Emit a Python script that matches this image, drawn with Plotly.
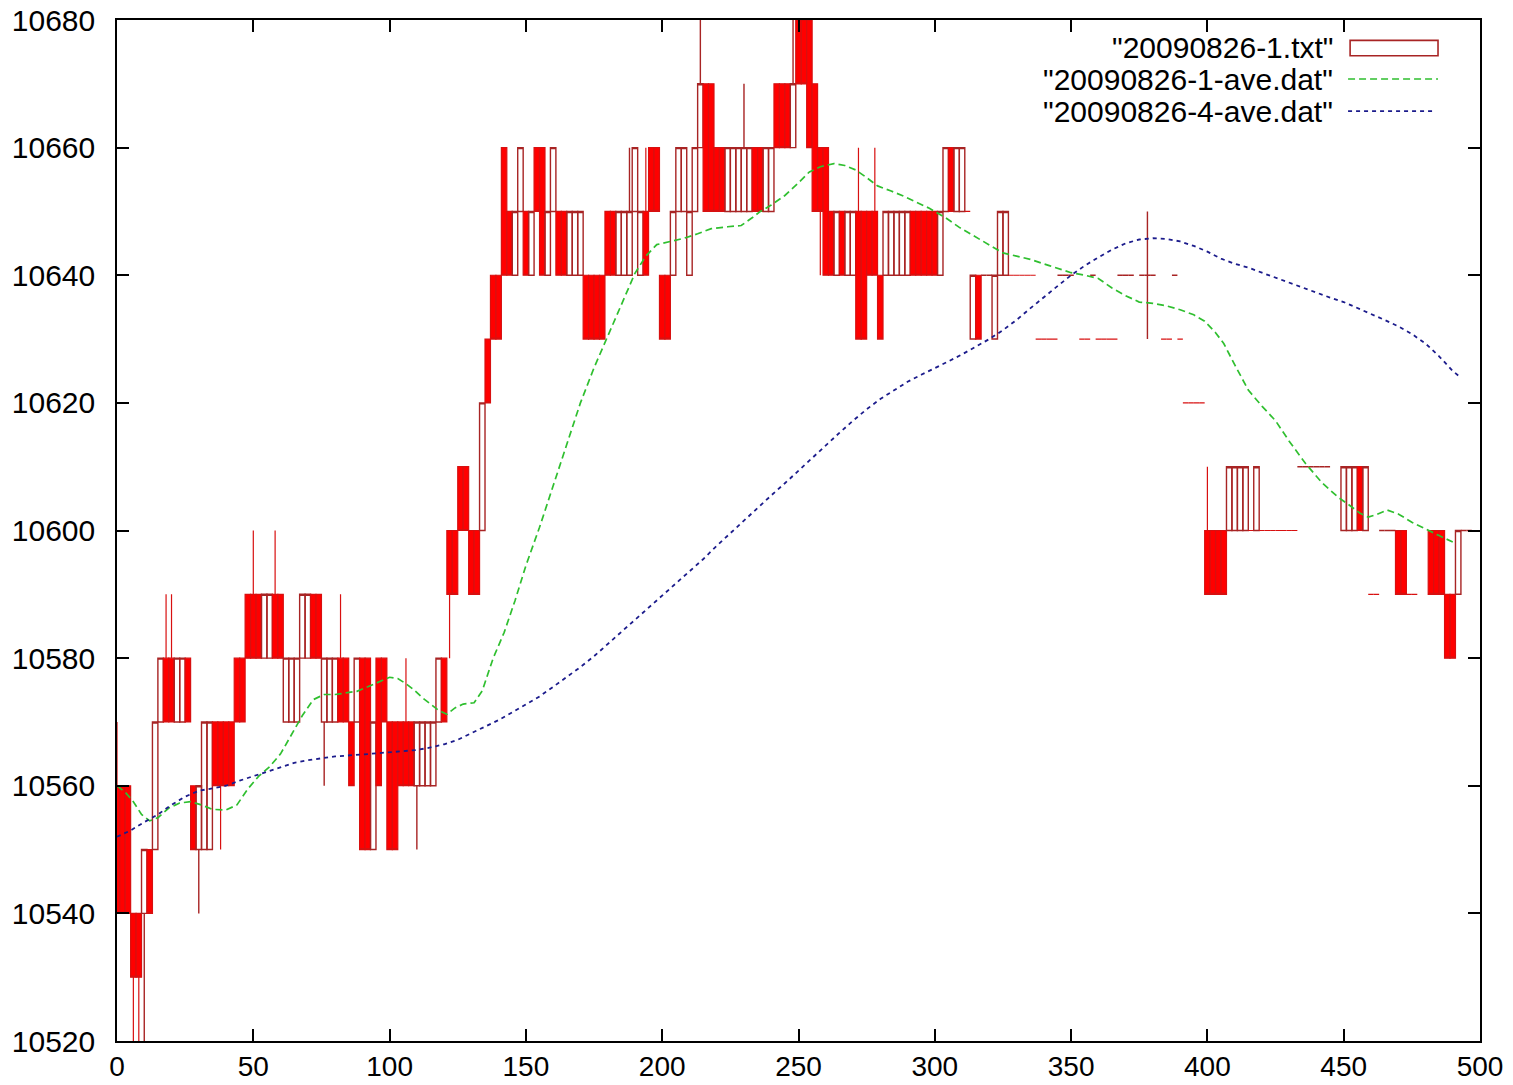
import plotly.graph_objects as go

# ---------------- data ----------------
candle_x = list(range(0, 497, 2))

price_open = [
    10560, 10560, 10560, 10540, 10540, 10540, 10550, 10550, 10570, 10580,
    10580, 10570, 10570, 10580, 10560, 10550, 10550, 10550, 10570, 10570,
    10570, 10570, 10580, 10580, 10590, 10590, 10590, 10580, 10580, 10590,
    10590, 10570, 10570, 10570, 10580, 10580, 10590, 10590, 10570, 10570,
    10570, 10580, 10580, 10570, 10570, 10580, 10580, 10550, 10580, 10580,
    10570, 10570, 10570, 10570, 10570, 10560, 10560, 10560, 10560, 10570,
    10580, 10600, 10600, 10610, 10610, 10600, 10600, 10600, 10630, 10640,
    10640, 10660, 10650, 10640, 10650, 10650, 10640, 10660, 10660, 10640,
    10650, 10650, 10650, 10640, 10640, 10640, 10640, 10640, 10640, 10640,
    10650, 10650, 10640, 10640, 10640, 10650, 10640, 10650, 10660, 10660,
    10640, 10640, 10640, 10650, 10650, 10640, 10650, 10660, 10670, 10670,
    10660, 10660, 10650, 10650, 10650, 10650, 10650, 10660, 10660, 10650,
    10650, 10670, 10670, 10670, 10660, 10680, 10680, 10680, 10670, 10660,
    10660, 10650, 10640, 10650, 10640, 10640, 10650, 10650, 10650, 10650,
    10640, 10640, 10640, 10640, 10640, 10640, 10650, 10650, 10650, 10650,
    10650, 10640, 10650, 10660, 10650, 10650, 10650, 10630, 10640, 10640,
    10640, 10630, 10640, 10640, 10640, 10640, 10640, 10640, 10640, 10630,
    10630, 10630, 10630, 10640, 10640, 10640, None, 10630, 10630, 10640,
    10630, 10630, 10630, 10630, 10640, 10640, 10640, None, 10640, 10640,
    10640, None, 10630, 10630, 10640, 10630, 10620, 10620, 10620, 10620,
    10600, 10600, 10600, 10600, 10600, 10600, 10600, 10600, 10600, 10600,
    10600, 10600, 10600, 10600, 10600, 10600, 10600, 10610, 10610, 10610,
    10610, 10610, 10610, None, None, 10600, 10600, 10600, 10610, 10600,
    10590, 10590, 10600, 10600, 10600, 10600, 10600, 10590, 10590, None,
    None, 10600, 10600, 10600, 10590, 10590, 10590, 10600, 10600,
]

price_high = [
    10570, 10560, 10560, 10540, 10540, 10550, 10550, 10570, 10580, 10590,
    10590, 10580, 10580, 10580, 10560, 10560, 10570, 10570, 10570, 10570,
    10570, 10570, 10580, 10580, 10590, 10600, 10590, 10590, 10590, 10600,
    10590, 10580, 10580, 10580, 10590, 10590, 10590, 10590, 10580, 10580,
    10580, 10590, 10580, 10570, 10580, 10580, 10580, 10570, 10580, 10580,
    10570, 10570, 10570, 10580, 10570, 10570, 10570, 10570, 10570, 10580,
    10580, 10600, 10600, 10610, 10610, 10600, 10600, 10620, 10630, 10640,
    10640, 10660, 10650, 10650, 10660, 10650, 10650, 10660, 10660, 10650,
    10660, 10650, 10650, 10650, 10650, 10650, 10640, 10640, 10640, 10640,
    10650, 10650, 10650, 10650, 10660, 10660, 10650, 10660, 10660, 10660,
    10640, 10640, 10650, 10660, 10660, 10650, 10660, 10690, 10670, 10670,
    10660, 10660, 10660, 10660, 10660, 10670, 10660, 10660, 10660, 10660,
    10660, 10670, 10670, 10670, 10690, 10690, 10690, 10690, 10670, 10660,
    10660, 10650, 10650, 10650, 10650, 10650, 10660, 10650, 10650, 10660,
    10640, 10650, 10650, 10650, 10650, 10650, 10650, 10650, 10650, 10650,
    10650, 10650, 10660, 10660, 10660, 10660, 10650, 10640, 10640, 10640,
    10640, 10640, 10650, 10650, 10640, 10640, 10640, 10640, 10640, 10630,
    10630, 10630, 10630, 10640, 10640, 10640, None, 10630, 10630, 10640,
    10630, 10630, 10630, 10630, 10640, 10640, 10640, None, 10640, 10650,
    10640, None, 10630, 10630, 10640, 10630, 10620, 10620, 10620, 10620,
    10610, 10600, 10600, 10600, 10610, 10610, 10610, 10610, 10600, 10610,
    10600, 10600, 10600, 10600, 10600, 10600, 10600, 10610, 10610, 10610,
    10610, 10610, 10610, None, None, 10610, 10610, 10610, 10610, 10610,
    10590, 10590, 10600, 10600, 10600, 10600, 10600, 10590, 10590, None,
    None, 10600, 10600, 10600, 10590, 10590, 10600, 10600, 10600,
]

price_low = [
    10540, 10540, 10540, 10520, 10520, 10520, 10540, 10550, 10570, 10570,
    10570, 10570, 10570, 10570, 10550, 10540, 10550, 10550, 10560, 10550,
    10560, 10560, 10570, 10570, 10580, 10580, 10580, 10580, 10580, 10580,
    10580, 10570, 10570, 10570, 10580, 10580, 10580, 10580, 10560, 10570,
    10570, 10570, 10570, 10560, 10570, 10550, 10550, 10550, 10560, 10570,
    10550, 10550, 10560, 10560, 10560, 10550, 10560, 10560, 10560, 10570,
    10570, 10580, 10590, 10600, 10600, 10590, 10590, 10600, 10620, 10630,
    10630, 10640, 10640, 10640, 10650, 10640, 10640, 10650, 10640, 10640,
    10650, 10640, 10640, 10640, 10640, 10640, 10630, 10630, 10630, 10630,
    10640, 10640, 10640, 10640, 10640, 10650, 10640, 10640, 10650, 10650,
    10630, 10630, 10640, 10650, 10650, 10640, 10650, 10660, 10650, 10650,
    10650, 10650, 10650, 10650, 10650, 10650, 10650, 10650, 10650, 10650,
    10650, 10660, 10660, 10660, 10660, 10670, 10670, 10660, 10650, 10640,
    10640, 10640, 10640, 10640, 10640, 10640, 10630, 10630, 10640, 10640,
    10630, 10640, 10640, 10640, 10640, 10640, 10640, 10640, 10640, 10640,
    10640, 10640, 10650, 10650, 10650, 10650, 10650, 10630, 10630, 10640,
    10640, 10630, 10640, 10640, 10640, 10640, 10640, 10640, 10640, 10630,
    10630, 10630, 10630, 10640, 10640, 10640, None, 10630, 10630, 10640,
    10630, 10630, 10630, 10630, 10640, 10640, 10640, None, 10640, 10630,
    10640, None, 10630, 10630, 10640, 10630, 10620, 10620, 10620, 10620,
    10590, 10590, 10590, 10590, 10600, 10600, 10600, 10600, 10600, 10600,
    10600, 10600, 10600, 10600, 10600, 10600, 10600, 10610, 10610, 10610,
    10610, 10610, 10610, None, None, 10600, 10600, 10600, 10600, 10600,
    10590, 10590, 10600, 10600, 10600, 10590, 10590, 10590, 10590, None,
    None, 10590, 10590, 10590, 10580, 10580, 10590, 10600, 10600,
]

price_close = [
    10540, 10540, 10540, 10530, 10530, 10550, 10540, 10570, 10580, 10570,
    10570, 10580, 10580, 10570, 10550, 10560, 10570, 10570, 10560, 10560,
    10560, 10560, 10570, 10570, 10580, 10580, 10580, 10590, 10590, 10580,
    10580, 10580, 10580, 10580, 10590, 10590, 10580, 10580, 10580, 10580,
    10580, 10570, 10570, 10560, 10580, 10550, 10550, 10570, 10560, 10570,
    10550, 10550, 10560, 10560, 10560, 10570, 10570, 10570, 10570, 10580,
    10570, 10590, 10590, 10600, 10600, 10590, 10590, 10620, 10620, 10630,
    10630, 10640, 10640, 10650, 10660, 10640, 10650, 10650, 10640, 10650,
    10660, 10640, 10640, 10650, 10650, 10650, 10630, 10630, 10630, 10630,
    10640, 10640, 10650, 10650, 10650, 10660, 10650, 10640, 10650, 10650,
    10630, 10630, 10650, 10660, 10660, 10650, 10660, 10670, 10650, 10650,
    10650, 10650, 10660, 10660, 10660, 10660, 10660, 10650, 10650, 10660,
    10660, 10660, 10660, 10660, 10670, 10670, 10670, 10660, 10650, 10650,
    10640, 10640, 10650, 10640, 10650, 10650, 10630, 10630, 10640, 10640,
    10630, 10650, 10650, 10650, 10650, 10650, 10640, 10640, 10640, 10640,
    10640, 10650, 10660, 10650, 10660, 10660, 10650, 10640, 10630, 10640,
    10640, 10640, 10650, 10650, 10640, 10640, 10640, 10640, 10640, 10630,
    10630, 10630, 10630, 10640, 10640, 10640, None, 10630, 10630, 10640,
    10630, 10630, 10630, 10630, 10640, 10640, 10640, None, 10640, 10640,
    10640, None, 10630, 10630, 10640, 10630, 10620, 10620, 10620, 10620,
    10590, 10590, 10590, 10590, 10610, 10610, 10610, 10610, 10600, 10610,
    10600, 10600, 10600, 10600, 10600, 10600, 10600, 10610, 10610, 10610,
    10610, 10610, 10610, None, None, 10610, 10610, 10610, 10600, 10610,
    10590, 10590, 10600, 10600, 10600, 10590, 10590, 10590, 10590, None,
    None, 10590, 10590, 10590, 10580, 10580, 10600, 10600, 10600,
]

ave1_x = [0, 3, 6, 9, 12, 15, 19, 23, 27, 31, 35, 40, 44, 48, 52, 56, 60, 64, 68, 72,
          76, 80, 84, 88, 92, 96, 100, 103, 106, 109, 112, 115, 118, 121, 124, 127, 131,
          134, 138, 142, 146, 150, 155, 160, 165, 170, 175, 180, 185, 190, 194, 198, 203,
          208, 213, 218, 224, 229, 233, 236, 240, 245, 250, 254, 258, 263, 267, 271, 275,
          279, 284, 288, 293, 298, 304, 309, 313, 319, 325, 330, 335, 342, 350, 355, 360,
          365, 370, 375, 380, 385, 390, 395, 399, 403, 406, 410, 415, 420, 425, 430, 436,
          442, 448, 452, 456, 459, 462, 466, 470, 475, 480, 485, 490]
ave1_y = [10560, 10559, 10557.5, 10555.5, 10554.5, 10555, 10556.5, 10557.3, 10557.5, 10557,
          10556.3, 10556.2, 10557, 10559.5, 10561.5, 10563, 10565, 10568, 10571, 10573.5,
          10574.3, 10574.3, 10574.5, 10574.8, 10575.5, 10576.3, 10577, 10576.8, 10576, 10575,
          10573.8, 10572.8, 10571.8, 10571.2, 10572.2, 10572.8, 10573, 10574.9, 10580, 10584,
          10589, 10594.5, 10600.5, 10607, 10613.5, 10620, 10625.5, 10630.5, 10635.5, 10640.3,
          10643, 10644.8, 10645.3, 10645.8, 10646.5, 10647.3, 10647.6, 10647.8, 10649, 10650,
          10651, 10652.5, 10654.5, 10656.2, 10657, 10657.5, 10657.2, 10656.5, 10655.3, 10654,
          10653.2, 10652.5, 10651.5, 10650.5, 10649, 10647.5, 10646.5, 10645, 10643.5, 10643,
          10642.5, 10641.5, 10640.4, 10640, 10639.5, 10638, 10636.8, 10635.8, 10635.6, 10635.2,
          10634.6, 10633.8, 10632.8, 10631, 10629.3, 10626, 10622, 10619.5, 10617.2, 10614,
          10610.5, 10607.5, 10605.2, 10604, 10602.7, 10602.1, 10602.5, 10603.2, 10602.6, 10601.3,
          10600.2, 10599.2, 10598.2]

ave4_x = [0, 5, 10, 15, 20, 25, 30, 35, 40, 45, 50, 55, 60, 65, 70, 75, 80, 90, 100, 110,
          115, 120, 125, 130, 135, 140, 145, 150, 155, 160, 165, 170, 175, 180, 185, 190,
          195, 200, 205, 210, 215, 220, 225, 230, 235, 240, 245, 250, 255, 260, 265, 270,
          275, 280, 285, 290, 295, 300, 305, 310, 315, 320, 325, 330, 335, 340, 345, 350,
          355, 360, 365, 370, 375, 380, 385, 390, 395, 400, 405, 410, 415, 420, 425, 430,
          435, 440, 445, 450, 455, 460, 465, 470, 475, 480, 485, 490, 492]
ave4_y = [10552, 10553, 10554.3, 10555.5, 10557, 10558.3, 10559.2, 10559.6, 10560, 10560.8,
          10561.5, 10562.3, 10563, 10563.6, 10564, 10564.3, 10564.6, 10564.9, 10565.2, 10565.6,
          10566, 10566.5, 10567.2, 10568.2, 10569.3, 10570.3, 10571.5, 10572.8, 10574, 10575.5,
          10577, 10578.6, 10580.3, 10582.2, 10584, 10586, 10587.8, 10589.7, 10591.6, 10593.5,
          10595.5, 10597.6, 10599.6, 10601.6, 10603.6, 10605.5, 10607.4, 10609.4, 10611.4, 10613.4,
          10615.3, 10617.2, 10619, 10620.6, 10622, 10623.3, 10624.4, 10625.4, 10626.5, 10627.6,
          10628.8, 10630, 10631.4, 10633, 10634.8, 10636.6, 10638.3, 10640, 10641.5, 10642.8,
          10644, 10645, 10645.6, 10645.8, 10645.7, 10645.3, 10644.6, 10643.7, 10642.6, 10641.8,
          10641.2, 10640.4, 10639.6, 10638.8, 10638, 10637.2, 10636.5, 10635.8, 10634.9, 10634,
          10633, 10632, 10630.8, 10629.3, 10627.3, 10625, 10624.3]

x_ticks = [0, 50, 100, 150, 200, 250, 300, 350, 400, 450, 500]
y_ticks = [10520, 10540, 10560, 10580, 10600, 10620, 10640, 10660, 10680]
legend_labels = ['"20090826-1.txt"', '"20090826-1-ave.dat"', '"20090826-4-ave.dat"']

# ---------------- styles ----------------
OUTLINE = "#a82424"
FILLED = "#ff0000"
FILL_EDGE = "#d81010"
GREEN = "#2fbf2f"
BLUE = "#1c1c8c"
FONT = "Liberation Sans, Arial, Helvetica, sans-serif"
Y_TICK_SIZE = 30
X_TICK_SIZE = 28
KEY_SIZE = 30

fig = go.Figure()

fig.add_trace(go.Candlestick(
    x=candle_x, open=price_open, high=price_high, low=price_low, close=price_close,
    increasing=dict(line=dict(color=OUTLINE, width=1.4), fillcolor="rgba(0,0,0,0)"),
    decreasing=dict(line=dict(color=FILL_EDGE, width=1.2), fillcolor=FILLED),
    whiskerwidth=0, showlegend=False, hoverinfo="skip",
))

fig.add_trace(go.Scatter(
    x=ave1_x, y=ave1_y, mode="lines",
    line=dict(color=GREEN, width=1.7, dash="7px,4px"),
    showlegend=False, hoverinfo="skip",
))

fig.add_trace(go.Scatter(
    x=ave4_x, y=ave4_y, mode="lines",
    line=dict(color=BLUE, width=1.8, dash="4px,4px"),
    showlegend=False, hoverinfo="skip",
))

# ---------------- gnuplot-style key (text left, sample right) ----------------
row_y = [0.9735, 0.9422, 0.9108]
text_x = 0.8937
for lbl, yy in zip(legend_labels, row_y):
    fig.add_annotation(
        x=text_x, y=yy, xref="paper", yref="paper", text=lbl, showarrow=False,
        xanchor="right", yanchor="middle", font=dict(family=FONT, size=KEY_SIZE, color="black"),
    )

fig.add_shape(type="rect", xref="paper", yref="paper",
              x0=0.9047, x1=0.9692, y0=0.9650, y1=0.9800,
              line=dict(color=OUTLINE, width=1.6), fillcolor="rgba(0,0,0,0)")
fig.add_shape(type="line", xref="paper", yref="paper",
              x0=0.9032, x1=0.9692, y0=row_y[1], y1=row_y[1],
              line=dict(color=GREEN, width=1.7, dash="7px,4px"))
fig.add_shape(type="line", xref="paper", yref="paper",
              x0=0.9032, x1=0.9655, y0=row_y[2], y1=row_y[2],
              line=dict(color=BLUE, width=1.8, dash="4px,4px"))

fig.update_layout(
    width=1513, height=1085,
    margin=dict(l=117, r=33, t=20, b=44, autoexpand=False),
    paper_bgcolor="white", plot_bgcolor="white",
    showlegend=False,
    boxgap=0, boxgroupgap=0,
    font=dict(family=FONT, size=Y_TICK_SIZE, color="black"),
)

axis_common = dict(
    ticks="inside", ticklen=12, tickwidth=1.5, tickcolor="black",
    showline=True, linecolor="black", linewidth=1.5, mirror="ticks",
    showgrid=False, zeroline=False, automargin=False,
)

fig.update_xaxes(range=[0, 500], tickvals=x_ticks, ticktext=[str(v) for v in x_ticks],
                 rangeslider=dict(visible=False), ticklabelstandoff=0,
                 tickfont=dict(family=FONT, size=X_TICK_SIZE, color="black"), **axis_common)
fig.update_yaxes(range=[10520, 10680], tickvals=y_ticks, ticktext=[str(v) for v in y_ticks],
                 ticklabelstandoff=14,
                 tickfont=dict(family=FONT, size=Y_TICK_SIZE, color="black"), **axis_common)

fig.write_html("out.html",
               config={"displayModeBar": False},
               post_script="document.body.style.margin='0';document.body.style.overflow='hidden';")
